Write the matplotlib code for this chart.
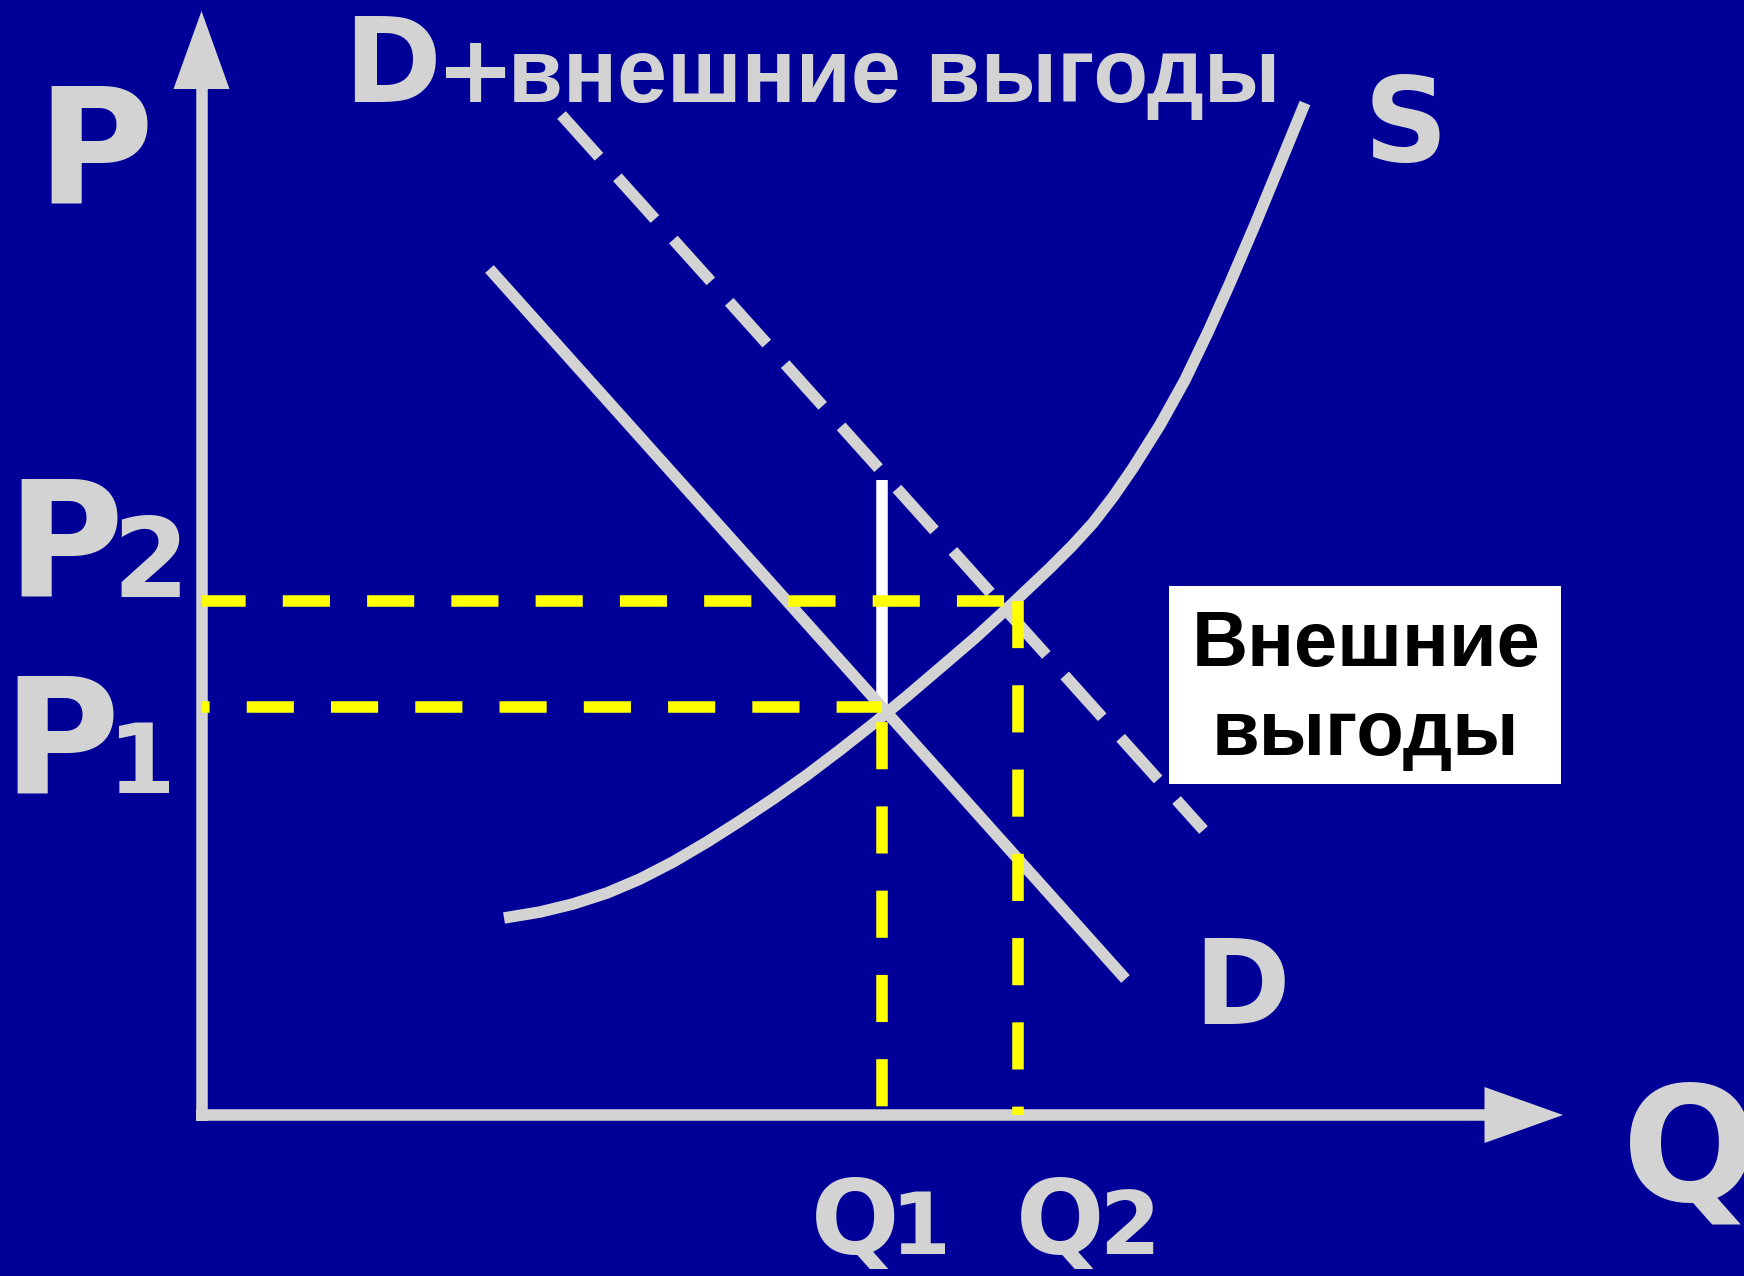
import matplotlib
matplotlib.use('Agg')
import matplotlib.pyplot as plt

bg = '#000099'
grey = '#D3D3D3'
yellow = '#FFFF00'

# demand, demand + external benefits, supply (Q, P)
d_q = [28.8, 92.4]
d_p = [84.6, 13.6]
dext_q = [36.0, 100.2]
dext_p = [100.0, 28.5]
s_q = [30.25, 33.85, 37.15, 40.55, 43.85, 47.15, 50.55, 53.85, 57.15, 60.55,
       63.85, 67.15, 70.45, 73.85, 77.35, 81.05, 84.85, 87.05, 89.15, 91.15,
       93.15, 95.85, 98.35, 100.65, 102.85, 105.55, 107.85, 110.35]
s_p = [19.7, 20.3, 21.1, 22.2, 23.6, 25.3, 27.3, 29.4, 31.6, 34.0,
       36.5, 39.1, 41.8, 44.7, 47.7, 51.1, 54.7, 56.9, 59.2, 61.8,
       64.7, 69.0, 73.5, 78.3, 83.2, 89.5, 95.1, 101.2]

# equilibria
q1, q2 = 68.05, 81.65
p1, p2 = 40.8, 51.4
benefit_top = 63.45

# axes
q_end, q_tip = 128.3, 136.15
p_end, p_tip = 102.6, 110.4
head = 2.8

lw = 8.3
yellow_dash = (4.09, 3.22)

fig = plt.figure(figsize=(17.44, 12.76), dpi=100)
fig.patch.set_facecolor(bg)
ax = fig.add_axes([0, 0, 1, 1])
ax.set_facecolor(bg)
ax.set_xlim(-20.15, 154.25)
ax.set_ylim(-16.1, 111.5)
ax.axis('off')

# axes with arrows
ax.plot([0, 0], [-0.6, p_end], color=grey, lw=lw, solid_capstyle='butt', zorder=1)
ax.plot([-0.6, q_end], [0, 0], color=grey, lw=lw, solid_capstyle='butt', zorder=1)
ax.fill([-head, head, 0], [p_end, p_end, p_tip], color=grey, lw=0, zorder=1)
ax.fill([q_end, q_end, q_tip], [-head, head, 0], color=grey, lw=0, zorder=1)

# external benefit marker
ax.plot([q1, q1], [p1, benefit_top], color='white', lw=lw, solid_capstyle='butt', zorder=2)

# curves
ax.plot(d_q, d_p, color=grey, lw=lw, solid_capstyle='butt', zorder=3)
ax.plot(dext_q, dext_p, color=grey, lw=lw, ls=(0, (4.87, 2.39)), zorder=3)
ax.plot(s_q, s_p, color=grey, lw=lw, solid_capstyle='butt',
        solid_joinstyle='round', zorder=3)

# yellow guides
ax.plot([0, q2], [p2, p2], color=yellow, lw=lw, ls=(0.3, yellow_dash), zorder=4)
ax.plot([0, q1], [p1, p1], color=yellow, lw=lw, ls=(3.43, yellow_dash), zorder=4)
ax.plot([q1, q1], [p1, 0], color=yellow, lw=lw, ls=(6.0, yellow_dash), zorder=4)
ax.plot([q2, q2], [p2, 0], color=yellow, lw=lw, ls=(0, yellow_dash), zorder=4)

lat = dict(family='DejaVu Sans', weight='bold', color=grey, va='baseline', ha='left')
cyr = dict(family='Liberation Sans', weight='bold', va='baseline')

ax.text(-16.55, 91.17, 'P', fontsize=115, **lat)
ax.text(-19.5, 51.83, 'P', fontsize=115, **lat)
ax.text(-8.9, 51.83, '2', fontsize=79, **lat)
ax.text(-19.9, 32.17, 'P', fontsize=115, **lat)
ax.text(-9.45, 32.17, '1', fontsize=70, **lat)

ax.text(14.2, 101.33, 'D', fontsize=85, **lat)
ax.text(23.4, 101.33, '+', fontsize=68, **lat)
ax.text(30.6, 101.33, 'внешние выгоды', fontsize=64.5, color=grey, ha='left', **cyr)
ax.text(116.2, 95.4, 'S', fontsize=84, **lat)
ax.text(99.2, 9.07, 'D', fontsize=84, **lat)

ax.text(142.1, -8.6, 'Q', fontsize=115, **lat)
ax.text(60.9, -13.9, 'Q', fontsize=75, **lat)
ax.text(68.9, -13.9, '1', fontsize=62, **lat)
ax.text(81.4, -13.9, 'Q', fontsize=75, **lat)
ax.text(89.8, -13.9, '2', fontsize=63, **lat)

# white box with label
ax.fill([96.75, 135.99, 135.99, 96.75], [33.07, 33.07, 52.9, 52.9],
        color='white', lw=0, zorder=5)
ax.text(116.5, 44.93, 'Внешние', fontsize=56, color='black', ha='center', zorder=6, **cyr)
ax.text(116.4, 36.0, 'выгоды', fontsize=56, color='black', ha='center', zorder=6, **cyr)

fig.savefig('out.png', dpi=100, facecolor=bg)
